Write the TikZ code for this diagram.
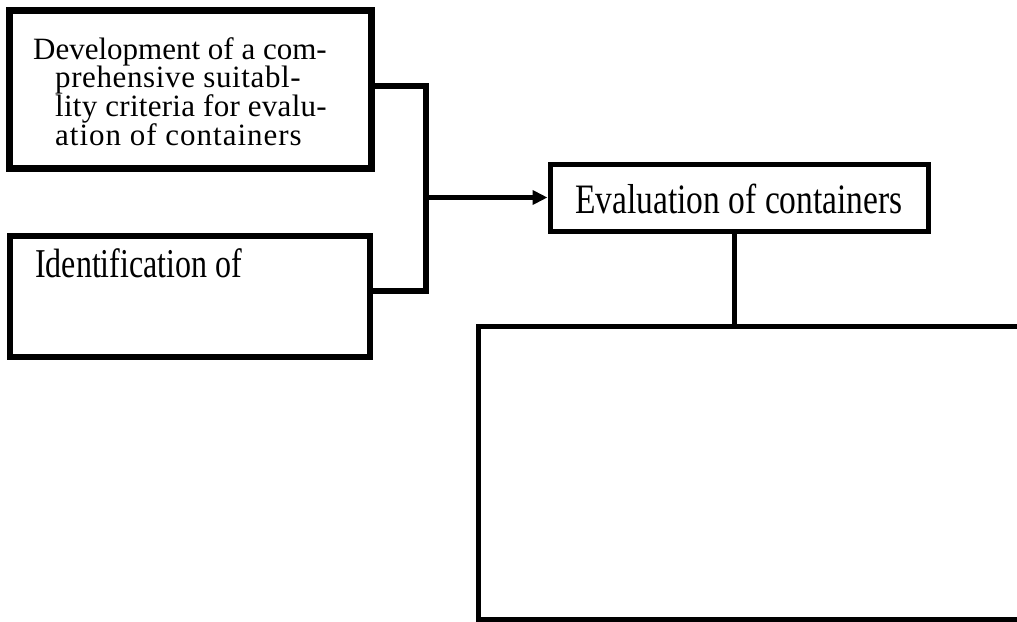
\documentclass[tikz,border=0pt]{standalone}
\usepackage{fontspec}
\setmainfont{Liberation Serif}
\usetikzlibrary{arrows.meta}
\newcommand{\lsp}[2]{{\addfontfeature{LetterSpace=#1}#2}}
\begin{document}
\begin{tikzpicture}[x=1pt,y=-1pt,
  box/.style={draw=black, rectangle, inner sep=0pt},
  link/.style={draw=black, line width=6pt, line join=miter},
  label/.style={inner sep=0pt}]
\useasboundingbox (0,0) rectangle (1017,621);
% boxes
\node[box, line width=7pt, minimum width=362pt, minimum height=158pt] (b1) at (190,89) {};
\node[box, line width=6pt, minimum width=360pt, minimum height=121pt] (b2) at (190,296.5) {};
\node[box, line width=5pt, minimum width=378pt, minimum height=67pt] (b3) at (739,197.5) {};
% texts
\node[label, anchor=base west, font=\fontsize{31}{28.7}\selectfont] (t1) at (33,59)
  {\vtop{\baselineskip=28.7pt\lineskiplimit=-100pt
   \hbox{Development of a com-}
   \hbox{\hskip22pt\lsp{2.0}{prehensive suitabl-}}
   \hbox{\hskip22pt\lsp{0.9}{lity criteria for evalu-}}
   \hbox{\hskip22pt\lsp{3.2}{ation of containers}}}};
\node[label, anchor=base west, font=\fontsize{32}{32}\selectfont] (t2) at (35,277)
  {\scalebox{1}[1.28]{Identification of}};
\node[label, anchor=base west, font=\fontsize{33.5}{33}\selectfont] (t3) at (575,213)
  {\scalebox{1}[1.25]{Evaluation of containers}};
% open box at lower right
\coordinate (b4tl) at (478,326);
\coordinate (b4tr) at (1020,326);
\coordinate (b4bl) at (478,619);
\coordinate (b4br) at (1020,619);
\begin{scope}
\clip (0,0) rectangle (1017,621);
\draw[line width=5pt, line join=miter] (b4tr) -- (b4tl) -- (b4bl) -- (b4br);
\end{scope}
% connectors
\coordinate (j1) at (426,86);
\coordinate (j2) at (426,291);
\coordinate (j3) at (426,197.5);
\coordinate (j4) at (734,326);
\draw[link] (b1.east |- j1) -- (j1) -- (j2) -- (b2.east |- j2);
\draw[draw=black, line width=5pt, -{Triangle[length=15pt,width=14pt]}] (j3) -- (b3.west);
\draw[draw=black, line width=5pt] (j4 |- b3.south) -- (j4);
\end{tikzpicture}
\end{document}
